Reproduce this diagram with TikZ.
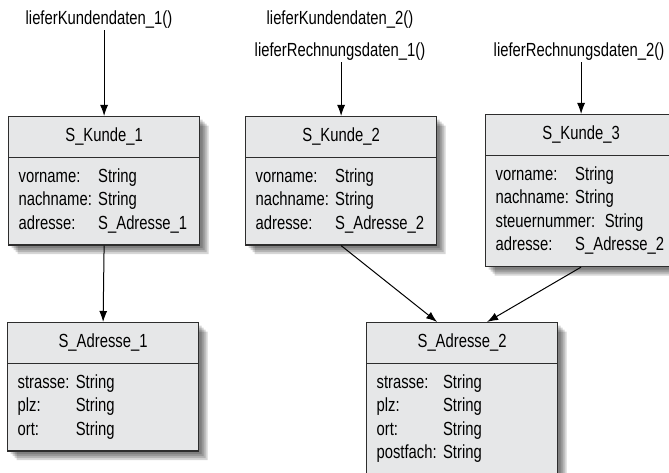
\documentclass[tikz,border=0pt]{standalone}
\usepackage{fontspec}
\setmainfont{Liberation Sans}[FakeStretch=0.78]
\usepackage{xcolor}
\usepackage{tikz}
\usetikzlibrary{arrows.meta,shapes.multipart}

\definecolor{kastengrau}{RGB}{230,231,232}
\definecolor{randgrau}{RGB}{45,45,45}
\setlength{\parindent}{0pt}

\begin{document}
\begin{tikzpicture}[x=1pt,y=-1pt,
  font=\fontsize{19}{23.5}\selectfont,
  schicht/.style={preaction={fill=black, fill opacity=0.16, draw=none,
    transform canvas={shift={(#1pt,-#1pt)}}}},
  klasse/.style={rectangle split, rectangle split parts=2, draw=randgrau,
    line width=1.2pt, fill=kastengrau, text width=171pt, inner xsep=10pt,
    inner ysep=8pt, anchor=north west,
    schicht=3, schicht=5, schicht=7, schicht=9},
  methode/.style={anchor=base, inner sep=1pt},
  pfeil/.style={-{Latex[length=11pt,width=8pt]}, line width=1pt}]

\useasboundingbox (0,0) rectangle (669,473);
\clip (0,0) rectangle (669,473);

% Aufrufe
\node[methode] (lk1) at (99,25) {lieferKundendaten\_1()};
\node[methode] (lk2) at (340,25) {lieferKundendaten\_2()};
\node[methode] (lr1) at (340,57) {lieferRechnungsdaten\_1()};
\node[methode] (lr2) at (579,57) {lieferRechnungsdaten\_2()};

% Kunden
\node[klasse] (k1) at (8,116) {\makebox[\hsize]{\strut S\_Kunde\_1}
  \nodepart{two}
  \begin{tabular}{@{}l@{\ }l@{}}
  vorname: & String\\
  nachname: & String\\
  adresse: & S\_Adresse\_1
  \end{tabular}};

\node[klasse] (k2) at (245,116) {\makebox[\hsize]{\strut S\_Kunde\_2}
  \nodepart{two}
  \begin{tabular}{@{}l@{\ }l@{}}
  vorname: & String\\
  nachname: & String\\
  adresse: & S\_Adresse\_2
  \end{tabular}};

\node[klasse] (k3) at (485,114) {\makebox[\hsize]{\strut S\_Kunde\_3}
  \nodepart{two}
  \begin{tabular}{@{}l@{\ }l@{}}
  vorname: & String\\
  nachname: & String\\
  \multicolumn{2}{@{}l@{}}{steuernummer: String}\\
  adresse: & S\_Adresse\_2
  \end{tabular}};

% Adressen
\node[klasse] (a1) at (7,322) {\makebox[\hsize]{\strut S\_Adresse\_1}
  \nodepart{two}
  \begin{tabular}{@{}l@{\ }l@{}}
  strasse: & String\\
  plz: & String\\
  ort: & String
  \end{tabular}};

\node[klasse] (a2) at (366,322) {\makebox[\hsize]{\strut S\_Adresse\_2}
  \nodepart{two}
  \begin{tabular}{@{}l@{\ }l@{}}
  strasse: & String\\
  plz: & String\\
  ort: & String\\
  postfach: & String
  \end{tabular}};

% Pfeile
\draw[pfeil] (lk1.south -| k1.north) -- (k1.north);
\draw[pfeil] (lr1.south -| k2.north) -- (k2.north);
\draw[pfeil] (lr2.south -| k3.north) -- (k3.north);
\draw[pfeil] (k1.south) -- (a1.north);
\draw[pfeil] (k2.south) -- ([xshift=-25pt]a2.north);
\draw[pfeil] (k3.south) -- ([xshift=25pt]a2.north);

\end{tikzpicture}
\end{document}
